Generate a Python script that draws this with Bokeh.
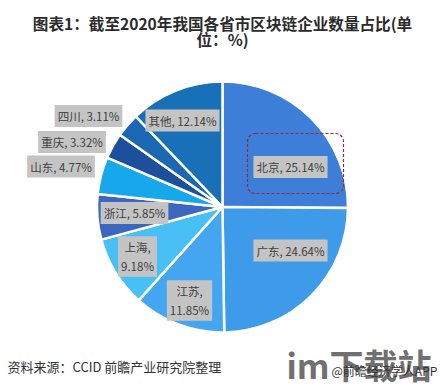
import math
from bokeh.plotting import figure
from bokeh.models import ColumnDataSource, Range1d, BoxAnnotation
from bokeh.core.properties import value
from bokeh.embed import file_html
from bokeh.resources import INLINE

# ---- data (clockwise from 12 o'clock) ----
regions = ["北京", "广东", "江苏", "上海", "浙江", "山东", "重庆", "四川", "其他"]
shares = [25.14, 24.64, 11.85, 9.18, 5.85, 4.77, 3.32, 3.11, 12.14]
title_lines = ["图表1：截至2020年我国各省市区块链企业数量占比(单", "位：%)"]
source_text = "资料来源：CCID 前瞻产业研究院整理"
credit_text = "@前瞻经济学人APP"
watermark_text = "im下载站"

# ---- styles / layout ----
colors = ["#3d7fd8", "#3d9be9", "#44a6f0", "#48c0f6", "#3c66bf",
          "#16a8ea", "#1c4f9c", "#1b68b2", "#1871b6"]
label_x = [290, 290, 189, 137, 134, 60.5, 71.5, 88, 182]
label_y = [224.5, 141, 91, 135, 178.5, 225, 249.5, 275.5, 271]
wrap = [False, False, True, True, False, False, False, False, False]

W, H = 448, 391
CX, CY, R = 222, 184.5, 125.5
FONT = "Noto Sans CJK SC"

total = sum(shares)
starts, ends = [], []
acc = 0.0
for s in shares:
    starts.append(math.pi / 2 - 2 * math.pi * acc / total)
    acc += s
    ends.append(math.pi / 2 - 2 * math.pi * acc / total)

texts = [(f"{n},\n{v:.2f}%" if w else f"{n}, {v:.2f}%") for n, v, w in zip(regions, shares, wrap)]

src = ColumnDataSource(dict(start=starts, end=ends, color=colors))
lab = ColumnDataSource(dict(x=label_x, y=label_y, text=texts))

p = figure(width=W, height=H, output_backend="svg", toolbar_location=None,
           x_range=Range1d(0, W), y_range=Range1d(0, H), min_border=0)
p.title.visible = False
p.axis.visible = False
p.grid.visible = False
p.outline_line_color = None
p.background_fill_color = "white"

p.wedge(x=CX, y=CY, radius=R, start_angle="start", end_angle="end",
        direction="clock", fill_color="color", line_color="white",
        line_width=2.5, source=src)

p.text(x="x", y="y", text="text", source=lab, text_font=value(FONT),
       text_font_size="11.5px", text_color="#404040", text_align="center",
       text_baseline="middle", text_line_height=1.15,
       background_fill_color="#c4c4c4", border_line_color=None, padding=3)

box = BoxAnnotation(left=247, right=343, top=258, bottom=198, fill_alpha=0,
                    line_color="#a3203f", line_alpha=1.0, line_dash="3 2",
                    line_width=1.2, border_radius=8)
p.add_layout(box)

# title
p.text(x=[222, 222], y=[369, 353], text=title_lines, text_font=value(FONT),
       text_font_size="15.6px", text_font_style="bold", text_color="#2b2b2b",
       text_align="center", text_baseline="middle")

# watermark
p.text(x=[286], y=[27], text=[watermark_text], text_font=value(FONT),
       text_font_size="34px", text_font_style="bold", text_color="#707070",
       text_align="left", text_baseline="middle")

# source & credit
p.text(x=[7], y=[25], text=[source_text], text_font=value(FONT),
       text_font_size="13px", text_color="#333333", text_align="left",
       text_baseline="middle")
p.text(x=[331], y=[21], text=[credit_text], text_font=value(FONT),
       text_font_size="12px", text_color="#333333", text_align="left",
       text_baseline="middle")

open("out.html", "w").write(file_html(p, INLINE))
